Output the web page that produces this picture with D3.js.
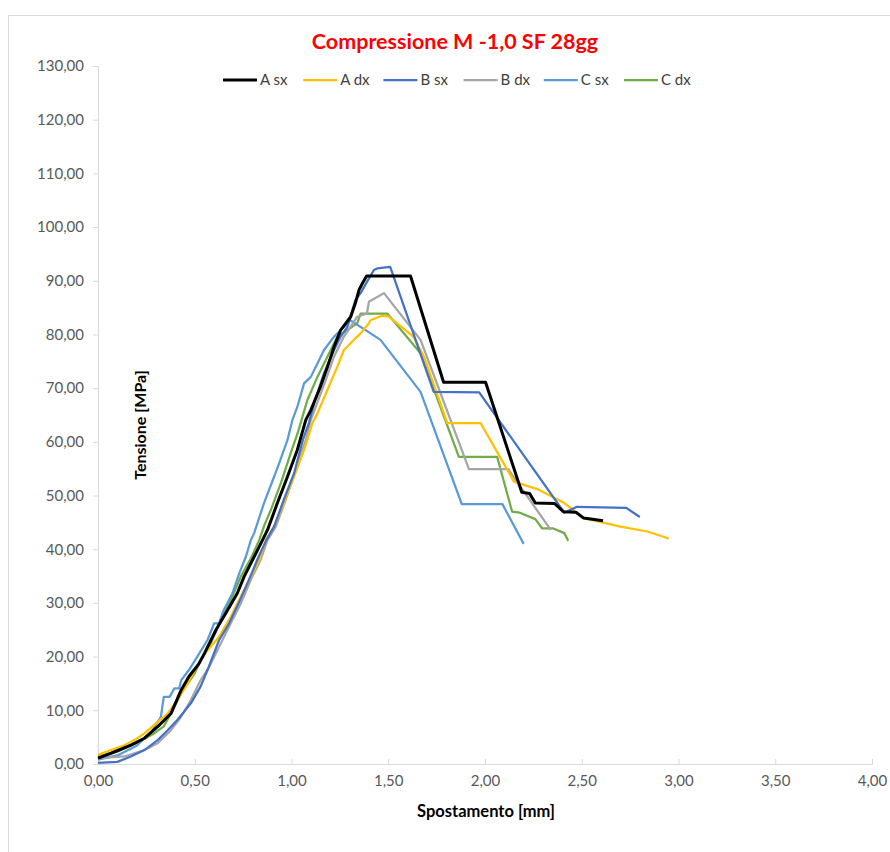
<!DOCTYPE html>
<html>
<head>
<meta charset="utf-8">
<script src="https://cdn.jsdelivr.net/npm/d3@7"></script>
<style>
	body { margin: 0; background: #fff; }
	text { font-family: Lato, "Open Sans", sans-serif; }
</style>
</head>
<body>
<div id="chart"></div>
<script>
// series: [spostamento mm, tensione MPa]
const aSx = [[0,1.1],[0.067,2.0],[0.17,3.5],[0.24,4.8],[0.31,7.0],[0.377,9.4],[0.43,13.8],[0.47,16.3],[0.52,18.6],[0.55,20.6],[0.61,25],[0.67,28.7],[0.72,31.8],[0.755,34.9],[0.807,38.6],[0.85,41.7],[0.876,43.6],[0.927,48.6],[0.979,53.5],[1.03,58.5],[1.074,64.1],[1.1,65.9],[1.15,70.3],[1.186,74],[1.22,77.7],[1.254,80.8],[1.306,83.3],[1.33,85.8],[1.349,88.3],[1.366,89.5],[1.388,90.9],[1.615,90.9],[1.786,71.1],[2.003,71.1],[2.19,50.6],[2.23,50.4],[2.26,48.6],[2.36,48.5],[2.405,47.0],[2.47,46.9],[2.51,45.8],[2.61,45.3]];
const aDx = [[0,1.7],[0.067,2.6],[0.136,3.5],[0.19,4.5],[0.24,5.7],[0.31,7.9],[0.36,9.4],[0.41,11.9],[0.463,15.0],[0.51,18.1],[0.55,20.5],[0.626,23.7],[0.686,27.4],[0.738,31.2],[0.79,34.9],[0.833,38],[0.867,41.7],[0.91,44.2],[0.96,48.6],[1.013,53.5],[1.065,58.5],[1.108,63.5],[1.134,65.3],[1.186,69.7],[1.237,74],[1.271,77.1],[1.323,79],[1.357,80.2],[1.40,82.1],[1.41,82.7],[1.46,83.4],[1.50,83.4],[1.63,79.6],[1.684,75.9],[1.805,63.5],[1.977,63.5],[2.15,52.6],[2.27,51.2],[2.41,48.6],[2.51,45.8],[2.70,44.2],[2.84,43.3],[2.95,42.0]];
const bSx = [[0,0.2],[0.1,0.4],[0.17,1.4],[0.24,2.6],[0.31,4.5],[0.36,6.3],[0.41,8.2],[0.48,11.3],[0.53,14.4],[0.566,17.5],[0.626,23.1],[0.678,26.2],[0.73,30.2],[0.78,34.3],[0.83,38.6],[0.87,41.7],[0.91,44.2],[0.96,49.2],[1.013,54.1],[1.06,60.5],[1.09,63.5],[1.117,67.2],[1.168,72.8],[1.22,77.1],[1.254,79.6],[1.289,81.4],[1.33,86.4],[1.357,87.7],[1.39,89.8],[1.426,92],[1.443,92.3],[1.51,92.6],[1.735,69.3],[1.97,69.2],[2.41,46.8],[2.475,47.9],[2.73,47.7],[2.80,46.0]];
const bDx = [[0,1.1],[0.136,1.4],[0.24,2.6],[0.31,3.9],[0.377,6.3],[0.43,8.8],[0.48,11.9],[0.53,15.6],[0.575,18.1],[0.635,22.5],[0.686,26.2],[0.738,29.9],[0.79,34.3],[0.84,38],[0.876,41.7],[0.919,44.2],[0.97,49.2],[1.022,54.8],[1.074,60.3],[1.1,64.1],[1.125,66.5],[1.177,71.5],[1.22,75.9],[1.271,79.6],[1.34,83.3],[1.39,83.9],[1.40,86.1],[1.478,87.7],[1.667,79],[1.917,54.9],[2.12,54.9],[2.34,43.6]];
const cSx = [[0,0.8],[0.1,1.6],[0.2,3.4],[0.28,6.2],[0.325,8.8],[0.34,12.5],[0.37,12.5],[0.395,14.1],[0.42,14.1],[0.43,15.6],[0.47,17.5],[0.51,19.8],[0.566,23.1],[0.60,26.2],[0.625,26.2],[0.65,28.7],[0.695,31.8],[0.73,35.5],[0.764,38.6],[0.79,41.7],[0.807,43],[0.858,48.6],[0.91,53.5],[0.936,56],[0.979,60.3],[1.005,64.1],[1.03,66.5],[1.065,70.9],[1.1,72.1],[1.134,74.6],[1.168,77.1],[1.22,79.6],[1.271,81.4],[1.306,82.6],[1.46,79.0],[1.667,69.3],[1.88,48.4],[2.09,48.4],[2.2,41.0]];
const cDx = [[0,1.4],[0.1,2.3],[0.2,3.9],[0.29,5.7],[0.34,7.0],[0.377,9.4],[0.43,13.2],[0.50,16.9],[0.515,18.1],[0.583,22.5],[0.635,26.8],[0.686,30.5],[0.738,34.9],[0.79,38.3],[0.833,41.7],[0.86,44.5],[0.893,47.3],[0.945,52.3],[0.996,57.9],[1.035,62],[1.082,67.8],[1.134,72.1],[1.186,75.9],[1.237,79.6],[1.289,80.8],[1.34,82.1],[1.357,83.9],[1.495,83.9],[1.667,76.5],[1.865,57.2],[2.063,57.2],[2.14,47.0],[2.18,46.8],[2.26,45.6],[2.295,43.9],[2.35,43.9],[2.41,43.0],[2.43,41.6]];

const seriesNames = ["A sx", "A dx", "B sx", "B dx", "C sx", "C dx"];
const seriesColors = ["#000000", "#ffc000", "#4472c4", "#a5a5a5", "#5b9bd5", "#70ad47"];
const seriesData = [aSx, aDx, bSx, bDx, cSx, cDx];

const xTicks = [0, 0.5, 1, 1.5, 2, 2.5, 3, 3.5, 4];
const yTicks = [0, 10, 20, 30, 40, 50, 60, 70, 80, 90, 100, 110, 120, 130];

const w = 890;
const h = 852;
const margin = { t: 66, r: 18, b: 88, l: 98 };

const svg = d3
	.select("#chart")
	.append("svg")
	.attr("width", w)
	.attr("height", h);

// chart area border
svg.append("rect")
	.attr("x", 8.5)
	.attr("y", 15.5)
	.attr("width", w + 10)
	.attr("height", h + 10)
	.attr("fill", "#fff")
	.attr("stroke", "#d9d9d9");

const fmt = (d) => d.toFixed(2).replace(".", ",");

let xScale = d3.scaleLinear().domain([0, 4]).range([margin.l, w - margin.r]);
let yScale = d3.scaleLinear().domain([0, 130]).range([h - margin.b, margin.t]);

let xAxisG = svg.append("g")
	.attr("transform", `translate(0, ${h - margin.b})`)
	.call(d3.axisBottom(xScale).tickValues(xTicks).tickFormat(fmt).tickSize(-5).tickPadding(11));

let yAxisG = svg.append("g")
	.attr("transform", `translate(${margin.l}, 0)`)
	.call(d3.axisLeft(yScale).tickValues(yTicks).tickFormat(fmt).tickSize(5).tickPadding(9));

[xAxisG, yAxisG].forEach((g) => {
	g.selectAll("path, line").attr("stroke", "#d9d9d9");
	g.selectAll("text")
		.attr("fill", "#595959")
		.style("font-size", "15px")
		.style("font-family", "Lato, 'Open Sans', sans-serif");
});

// lines
const line = d3.line().x((d) => xScale(d[0])).y((d) => yScale(d[1]));
const order = [5, 4, 3, 1, 2, 0];
order.forEach((i) => {
	svg.append("path")
		.datum(seriesData[i])
		.attr("d", line)
		.attr("fill", "none")
		.attr("stroke", seriesColors[i])
		.attr("stroke-width", i === 0 ? 3 : 2.25)
		.attr("stroke-linejoin", "round");
});

// title
svg.append("text")
	.attr("x", 455)
	.attr("y", 49)
	.attr("text-anchor", "middle")
	.attr("fill", "#ff0000")
	.style("font-size", "21.5px")
	.style("font-weight", "bold")
	.text("Compressione M -1,0 SF 28gg");

// legend
const legend = svg.append("g").attr("transform", "translate(223, 80)");
seriesNames.forEach((name, i) => {
	const g = legend.append("g").attr("transform", `translate(${i * 80.2}, 0)`);
	g.append("line")
		.attr("x1", 0).attr("x2", 34)
		.attr("stroke", seriesColors[i])
		.attr("stroke-width", i === 0 ? 3 : 2.25);
	g.append("text")
		.attr("x", 37)
		.attr("y", 5)
		.attr("fill", "#404040")
		.style("font-size", "15px")
		.text(name);
});

// axis titles
svg.append("text")
	.attr("x", 486)
	.attr("y", 817)
	.attr("text-anchor", "middle")
	.attr("fill", "#000")
	.style("font-size", "16.5px")
	.style("font-weight", "bold")
	.text("Spostamento [mm]");

svg.append("text")
	.attr("transform", "translate(146, 425) rotate(-90)")
	.attr("text-anchor", "middle")
	.attr("fill", "#000")
	.style("font-size", "16px")
	.style("font-weight", "bold")
	.text("Tensione [MPa]");
</script>
</body>
</html>
